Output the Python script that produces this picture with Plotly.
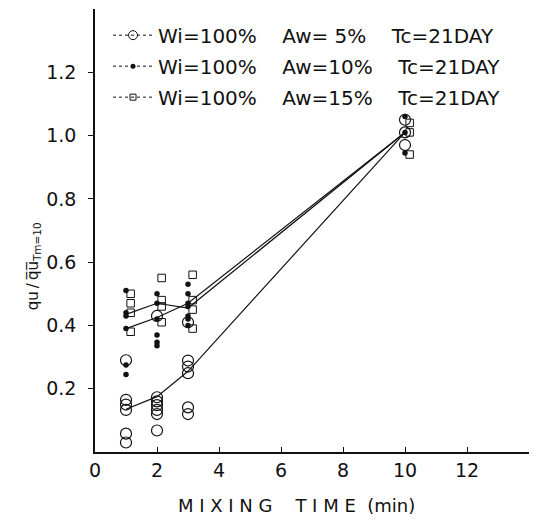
import plotly.graph_objects as go

# Mixing time (min) at which specimens were tested
mix_time = [1, 2, 3, 10]

# Individual strength ratios qu / qu(Tm=10), Aw = 5 %
aw5_x = [1, 1, 1, 1, 1, 1,
         2, 2, 2, 2, 2, 2, 2,
         3, 3, 3, 3, 3, 3,
         10, 10, 10]
aw5_y = [0.29, 0.165, 0.15, 0.133, 0.058, 0.03,
         0.43, 0.173, 0.16, 0.148, 0.133, 0.12, 0.068,
         0.41, 0.289, 0.27, 0.249, 0.141, 0.12,
         1.05, 1.01, 0.97]

# Aw = 10 %
aw10_x = [1, 1, 1, 1, 1, 1,
          2, 2, 2, 2, 2, 2,
          3, 3, 3, 3, 3, 3, 3,
          10, 10, 10]
aw10_y = [0.51, 0.44, 0.43, 0.39, 0.275, 0.245,
          0.50, 0.47, 0.42, 0.37, 0.347, 0.336,
          0.53, 0.50, 0.47, 0.46, 0.43, 0.42, 0.40,
          1.06, 1.01, 0.945]

# Aw = 15 %
aw15_x = [1, 1, 1, 1,
          2, 2, 2, 2,
          3, 3, 3, 3,
          10, 10, 10]
aw15_y = [0.50, 0.47, 0.44, 0.38,
          0.55, 0.48, 0.46, 0.41,
          0.56, 0.48, 0.45, 0.39,
          1.04, 1.01, 0.94]

# Mean ratio at each mixing time
aw5_mean = [0.135, 0.175, 0.255, 1.01]
aw10_mean = [0.39, 0.425, 0.47, 1.01]
aw15_mean = [0.435, 0.47, 0.455, 1.01]

NB = "\u00a0"
legend_labels = [
    f"Wi=100%{NB*4}Aw={NB}5%{NB*4}Tc=21DAY",
    f"Wi=100%{NB*4}Aw=10%{NB*4}Tc=21DAY",
    f"Wi=100%{NB*4}Aw=15%{NB*4}Tc=21DAY",
]

x_ticks = [0, 2, 4, 6, 8, 10, 12]
y_ticks = [0.2, 0.4, 0.6, 0.8, 1.0, 1.2]

FONT = "DejaVu Sans"
INK = "#111111"
SQUARE_SHIFT = 0.15  # squares sit just right of the time column

fig = go.Figure()

# Mean lines
for means in (aw5_mean, aw10_mean, aw15_mean):
    fig.add_trace(go.Scatter(
        x=mix_time, y=means, mode="lines",
        line=dict(color=INK, width=1.2), showlegend=False, hoverinfo="skip"))

# Individual specimens
fig.add_trace(go.Scatter(
    x=aw5_x, y=aw5_y, mode="markers", showlegend=False,
    marker=dict(symbol="circle-open", size=11, color=INK, line=dict(width=1.2))))
fig.add_trace(go.Scatter(
    x=aw10_x, y=aw10_y, mode="markers", showlegend=False,
    marker=dict(symbol="circle", size=5.5, color=INK)))
fig.add_trace(go.Scatter(
    x=[v + SQUARE_SHIFT for v in aw15_x], y=aw15_y, mode="markers", showlegend=False,
    marker=dict(symbol="square-open", size=7.5, color=INK, line=dict(width=1))))

# Legend keys
key_markers = [
    dict(symbol="circle-open", size=9, color=INK, line=dict(width=1)),
    dict(symbol="circle", size=5, color=INK),
    dict(symbol="square-open", size=6, color=INK, line=dict(width=1)),
]
for i, (label, mk) in enumerate(zip(legend_labels, key_markers)):
    fig.add_trace(go.Scatter(
        x=[None], y=[None], mode="lines+markers", name=label,
        legendgroup=f"g{i}", marker=mk,
        line=dict(color=INK, width=1, dash="dot")))

fig.update_layout(
    width=552, height=527,
    margin=dict(l=95, r=23, t=9, b=75),
    paper_bgcolor="white", plot_bgcolor="white",
    font=dict(family=FONT, color=INK, size=18),
    showlegend=True,
    legend=dict(
        x=0.03, y=0.985, xanchor="left", yanchor="top",
        bgcolor="rgba(0,0,0,0)", borderwidth=0,
        font=dict(family=FONT, size=20, color=INK),
        traceorder="grouped", tracegroupgap=2, itemwidth=40,
    ),
    xaxis=dict(
        range=[0, 14], tickvals=x_ticks, ticktext=[str(v) for v in x_ticks],
        showgrid=False, zeroline=False, showline=True,
        linecolor=INK, linewidth=1.5,
        ticks="inside", ticklen=5, tickcolor=INK, tickwidth=1,
        tickfont=dict(family=FONT, size=19, color=INK),
    ),
    yaxis=dict(
        range=[0, 1.4], tickvals=y_ticks, ticktext=[f"{v:.1f}" for v in y_ticks],
        showgrid=False, zeroline=False, showline=True,
        linecolor=INK, linewidth=1.5,
        ticks="outside", ticklen=5, tickcolor=INK, tickwidth=1,
        ticklabelstandoff=8,
        tickfont=dict(family=FONT, size=19, color=INK),
    ),
)

# Axis titles
fig.add_annotation(
    xref="paper", yref="paper", x=0.465, y=-0.12, xanchor="center", yanchor="middle",
    text=f"M{NB}I{NB}X{NB}I{NB}N{NB}G{NB*4}T{NB}I{NB}M{NB}E{NB*2}(min)",
    showarrow=False, font=dict(family=FONT, size=18, color=INK))
fig.add_annotation(
    xref="paper", yref="paper", x=-0.14, y=0.42, xanchor="center", yanchor="middle",
    text="qu\u2009/\u2009q\u0305u\u0305<sub>Tm=10</sub>", textangle=-90,
    showarrow=False, font=dict(family=FONT, size=15, color=INK))

fig.write_html("out.html")
